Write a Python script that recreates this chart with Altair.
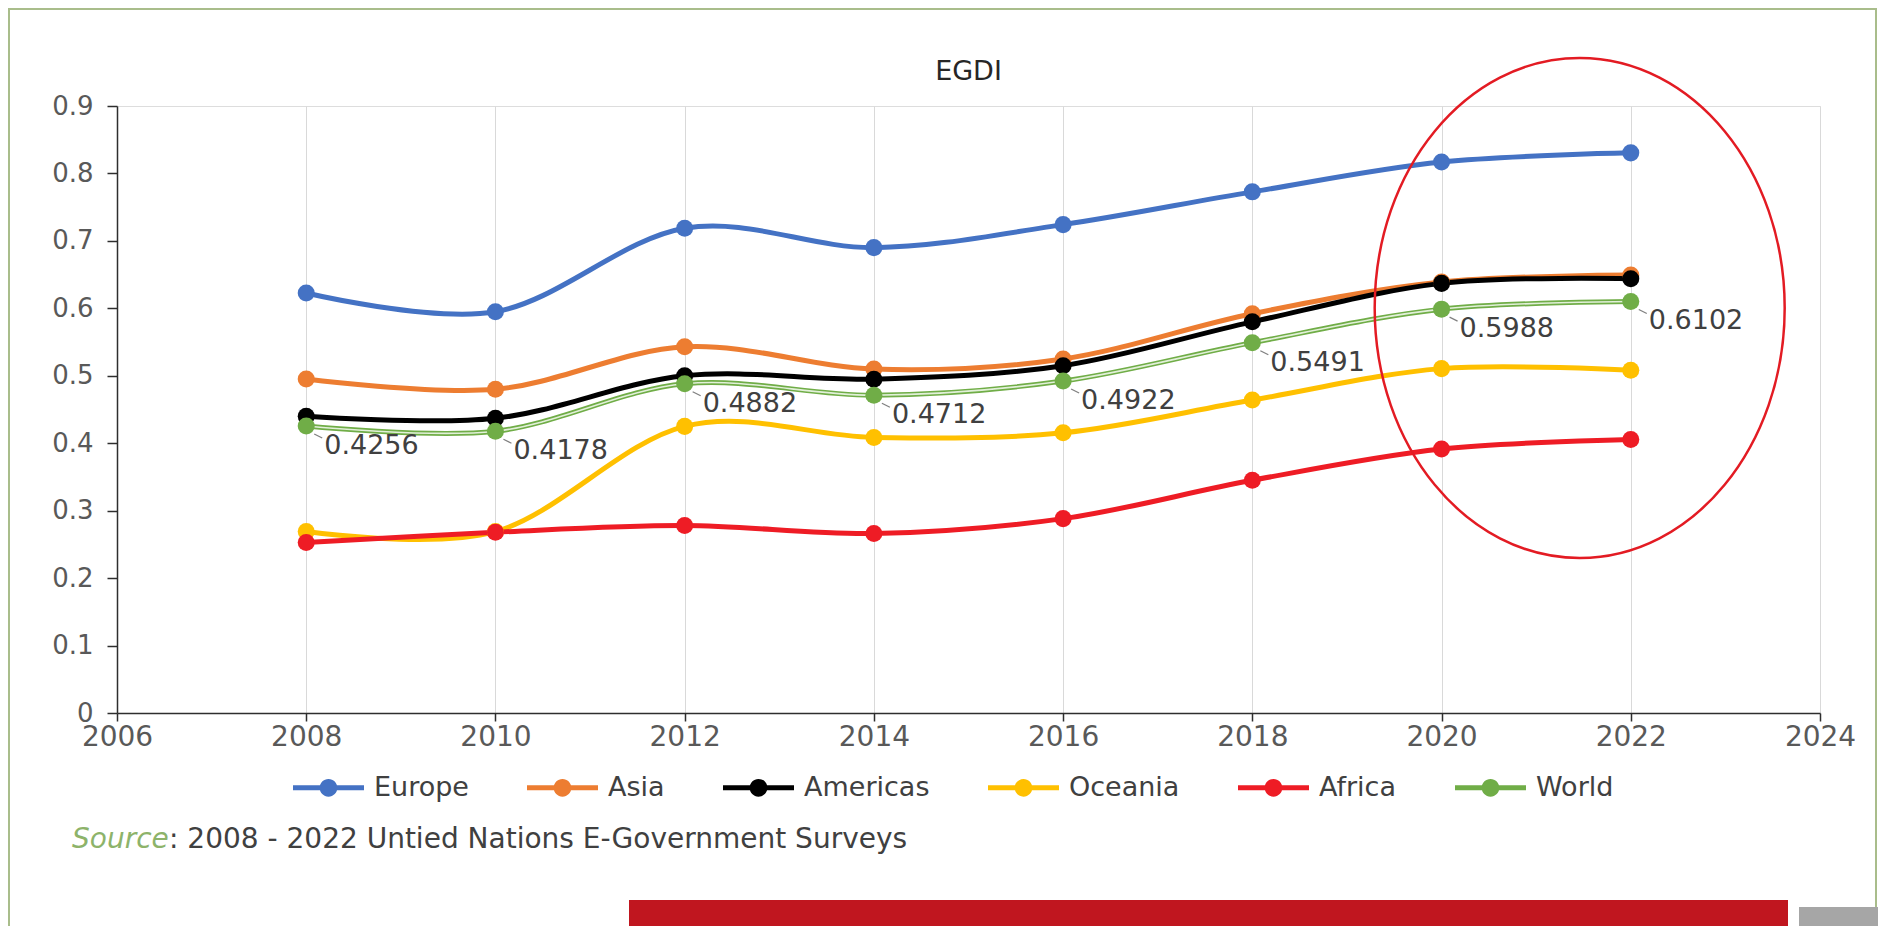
import altair as alt
import pandas as pd

# ---------------- data ----------------
years = [2008, 2010, 2012, 2014, 2016, 2018, 2020, 2022]
series_names = ["Europe", "Asia", "Americas", "Oceania", "Africa", "World"]
series_colors = ["#4472C4", "#ED7D31", "#000000", "#FFC000", "#EE1C25", "#70AD47"]

europe = [0.6227, 0.5950, 0.7188, 0.6900, 0.7241, 0.7727, 0.8170, 0.8305]
asia = [0.4951, 0.4800, 0.5430, 0.5100, 0.5250, 0.5920, 0.6390, 0.6493]
americas = [0.4400, 0.4370, 0.5000, 0.4950, 0.5150, 0.5800, 0.6370, 0.6438]
oceania = [0.2690, 0.2690, 0.4250, 0.4086, 0.4154, 0.4640, 0.5106, 0.5081]
africa = [0.2527, 0.2680, 0.2780, 0.2661, 0.2882, 0.3450, 0.3914, 0.4054]
world = [0.4256, 0.4178, 0.4882, 0.4712, 0.4922, 0.5491, 0.5988, 0.6102]

x_ticks = [2006, 2008, 2010, 2012, 2014, 2016, 2018, 2020, 2022, 2024]
y_ticks = [0, 0.1, 0.2, 0.3, 0.4, 0.5, 0.6, 0.7, 0.8, 0.9]

title_text = "EGDI"
source_label = "Source"
source_text = ": 2008 - 2022 Untied Nations E-Government Surveys"

# highlight ellipse annotation (centre in data units)
ellipse_year = [2021.46]
ellipse_value = [0.6005]

# ---------------- tables ----------------
rows = []
for name, vals in zip(series_names, [europe, asia, americas, oceania, africa, world]):
    for yr, v in zip(years, vals):
        rows.append({"series": name, "year": yr, "value": v})
df = pd.DataFrame(rows)
world_df = df[df["series"] == "World"].reset_index(drop=True)
ellipse_df = pd.DataFrame({"year": ellipse_year, "value": ellipse_value})
one = pd.DataFrame({"k": [0]})

FONT = "DejaVu Sans"
TEXT_DARK = "#404040"
TICK_GREY = "#595959"

x_enc = alt.X(
    "year:Q",
    scale=alt.Scale(domain=[2006, 2024], nice=False, zero=False),
    axis=alt.Axis(
        values=x_ticks, format="d", title=None, grid=True, gridColor="#D9D9D9",
        gridWidth=1, domainColor="#2E2E2E", domainWidth=1.5, tickColor="#2E2E2E",
        tickWidth=1.5, tickSize=8, labelFont=FONT, labelFontSize=28,
        labelColor=TICK_GREY, labelPadding=2, labelFlush=False, labelOverlap=False,
    ),
)
y_enc = alt.Y(
    "value:Q",
    scale=alt.Scale(domain=[0, 0.9], nice=False, zero=True),
    axis=alt.Axis(
        values=y_ticks, title=None, grid=False, domainColor="#2E2E2E", domainWidth=1.5,
        tickColor="#2E2E2E", tickWidth=1.5, tickSize=10, labelFont=FONT, labelFontSize=26,
        labelColor=TICK_GREY, labelPadding=14, labelFlush=False, labelOverlap=False,
        labelExpr="datum.value == 0 ? '0' : format(datum.value, '.1f')",
    ),
)
color_scale = alt.Scale(domain=series_names, range=series_colors)

LEGEND_SYMBOL = (
    "M-1,-0.07L1,-0.07L1,0.07L-1,0.07Z"
    "M0.25,0A0.25,0.25,0,1,1,-0.25,0A0.25,0.25,0,1,1,0.25,0Z"
)
ELLIPSE_SHAPE = "M-0.82,0A0.82,1,0,1,1,0.82,0A0.82,1,0,1,1,-0.82,0Z"

legend = alt.Legend(
    orient="none", legendX=176, legendY=646, direction="horizontal", title=None,
    symbolType=LEGEND_SYMBOL, symbolSize=5041, symbolStrokeWidth=0,
    symbolOpacity=1, labelFont=FONT, labelFontSize=27, labelColor=TEXT_DARK,
    labelOffset=10, columnPadding=58, labelLimit=300,
)
color_enc = alt.Color("series:N", scale=color_scale, legend=legend)

# ---------------- decorations ----------------
border = alt.Chart(one).mark_rect(fillOpacity=0, stroke="#A9BD8B", strokeWidth=2).encode(
    x=alt.value(-108), x2=alt.value(1759), y=alt.value(-97), y2=alt.value(900)
)
banner = alt.Chart(one).mark_rect(color="#C0161F").encode(
    x=alt.value(512), x2=alt.value(1671), y=alt.value(794), y2=alt.value(840)
)
qr = alt.Chart(one).mark_rect(color="#A6A6A6").encode(
    x=alt.value(1682), x2=alt.value(1773), y=alt.value(801), y2=alt.value(840)
)
title = alt.Chart(one).mark_text(
    align="center", baseline="middle", font=FONT, fontSize=27, color="#262626"
).encode(x=alt.value(851.5), y=alt.value(-34), text=alt.value(title_text))

# ---------------- series ----------------
lines = alt.Chart(df).mark_line(strokeWidth=5, interpolate="cardinal").encode(
    x=x_enc, y=y_enc, color=color_enc,
)
world_inner = alt.Chart(world_df).mark_line(
    strokeWidth=1.6, color="#E2F0D9", interpolate="cardinal"
).encode(x=x_enc, y=y_enc)

points = alt.Chart(df).mark_point(filled=True, size=290, opacity=1).encode(
    x=x_enc, y=y_enc, color=color_enc,
)

leaders = alt.Chart(world_df).mark_rule(
    color="#7F7F7F", strokeWidth=1.2, xOffset=8, yOffset=8, x2Offset=16, y2Offset=12
).encode(x=x_enc, y=y_enc, x2=alt.X2("year:Q"), y2=alt.Y2("value:Q"))

labels = alt.Chart(world_df).mark_text(
    align="left", baseline="middle", dx=18, dy=20, font=FONT, fontSize=27, color=TEXT_DARK
).encode(x=x_enc, y=y_enc, text=alt.Text("value:Q", format=".4f"))

ellipse = alt.Chart(ellipse_df).mark_point(
    shape=ELLIPSE_SHAPE, size=250000, filled=False, stroke="#E31B23",
    strokeWidth=2.5, opacity=1
).encode(x=x_enc, y=y_enc)

src1 = alt.Chart(one).mark_text(
    align="left", baseline="middle", font=FONT, fontSize=28, fontStyle="italic", color="#8DB36A"
).encode(x=alt.value(-45), y=alt.value(734), text=alt.value(source_label))
src2 = alt.Chart(one).mark_text(
    align="left", baseline="middle", font=FONT, fontSize=28, color=TEXT_DARK
).encode(x=alt.value(52), y=alt.value(734), text=alt.value(source_text))

chart = alt.layer(
    border, banner, qr, title, lines, world_inner, points, leaders, labels, ellipse, src1, src2
).properties(
    width=1703,
    height=607,
    autosize=alt.AutoSizeParams(type="none"),
    padding={"left": 109, "top": 98, "right": 58, "bottom": 213},
).configure_view(stroke=None).configure(background="white")

chart.save("out.html", embed_options={"renderer": "svg", "actions": False})
